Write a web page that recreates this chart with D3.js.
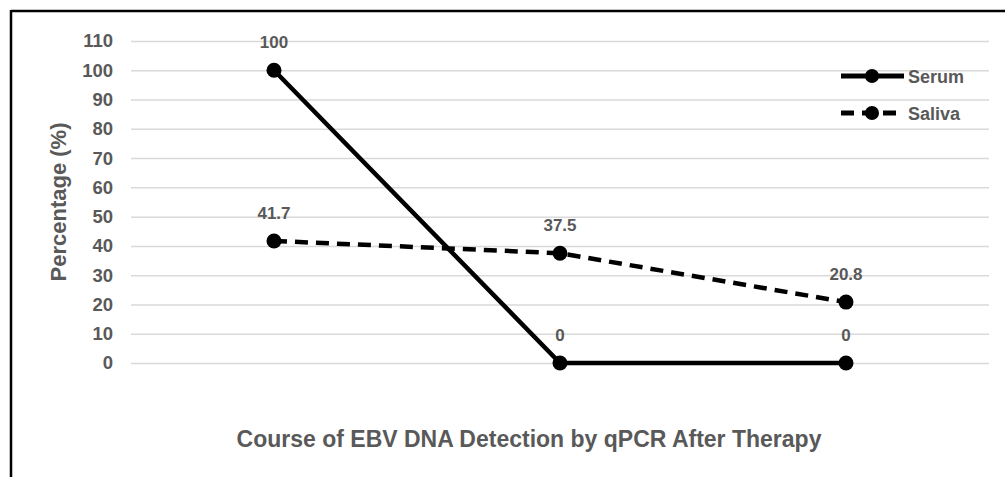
<!DOCTYPE html>
<html><head><meta charset="utf-8">
<script src="https://cdn.jsdelivr.net/npm/d3@7"></script>
<style>body{margin:0;background:#fff}svg{display:block}text{font-family:"Liberation Sans",Arial,sans-serif;font-weight:bold}</style>
</head><body>
<svg id="c" width="1005" height="477"></svg>
<script>
const categories = ["Time 1", "Time 2", "Time 3"];
const serum = [100, 0, 0];
const saliva = [41.7, 37.5, 20.8];
const seriesNames = ["Serum", "Saliva"];
const yTicks = [0,10,20,30,40,50,60,70,80,90,100,110];

const svg = d3.select("#c");
const W = 1005, H = 477;
svg.append("line").attr("x1",11).attr("x2",W).attr("y1",11).attr("y2",11).attr("stroke","#000").attr("stroke-width",2.5);
svg.append("line").attr("x1",11).attr("x2",11).attr("y1",10).attr("y2",H).attr("stroke","#000").attr("stroke-width",2.5);

const x = d3.scaleBand().domain(categories).range([131, 989]);
const y = d3.scaleLinear().domain([0,110]).range([363, 41]);
const grey = "#595959";

const yAxis = svg.append("g").attr("transform","translate(131,0)")
  .call(d3.axisLeft(y).tickValues(yTicks).tickSize(-(989-131)).tickPadding(18).tickFormat(d3.format("d")));
yAxis.select(".domain").remove();
yAxis.selectAll(".tick line").attr("stroke","#d9d9d9").attr("stroke-width",1.5);
yAxis.selectAll(".tick text").attr("fill",grey).style("font-size","18.5px").style("font-family","Liberation Sans, Arial, sans-serif").style("font-weight","bold");

const cx = d => x(d) + x.bandwidth()/2;
const line = d3.line().x((d,i)=>cx(categories[i])).y(d=>y(d));

const series = [
  {name: seriesNames[0], values: serum, dash: null},
  {name: seriesNames[1], values: saliva, dash: "13,8"}
];
series.forEach(s => {
  svg.append("path").datum(s.values).attr("d", line).attr("fill","none")
    .attr("stroke","#000").attr("stroke-width",4.5).attr("stroke-dasharray", s.dash);
  svg.selectAll(null).data(s.values).enter().append("circle")
    .attr("cx",(d,i)=>cx(categories[i])).attr("cy",d=>y(d)).attr("r",7.5).attr("fill","#000");
  svg.selectAll(null).data(s.values).enter().append("text")
    .attr("x",(d,i)=>cx(categories[i])).attr("y",d=>y(d)-22).attr("text-anchor","middle")
    .attr("fill",grey).style("font-size","17px").text(d=>d);
});

series.forEach((s,i) => {
  const ly = 76 + i*37;
  svg.append("line").attr("x1",841).attr("x2",904).attr("y1",ly).attr("y2",ly)
    .attr("stroke","#000").attr("stroke-width",5).attr("stroke-dasharray", s.dash ? "13,8" : null);
  svg.append("circle").attr("cx",872).attr("cy",ly).attr("r",7).attr("fill","#000");
  svg.append("text").attr("x",908).attr("y",ly+6.5).attr("fill",grey).style("font-size","18px").text(s.name);
});

svg.append("text").attr("transform","translate(66,202) rotate(-90)").attr("text-anchor","middle")
  .attr("fill",grey).style("font-size","22px").text("Percentage (%)");
svg.append("text").attr("x",529).attr("y",447).attr("text-anchor","middle")
  .attr("fill",grey).style("font-size","23px").text("Course of EBV DNA Detection by qPCR After Therapy");
</script>
</body></html>
